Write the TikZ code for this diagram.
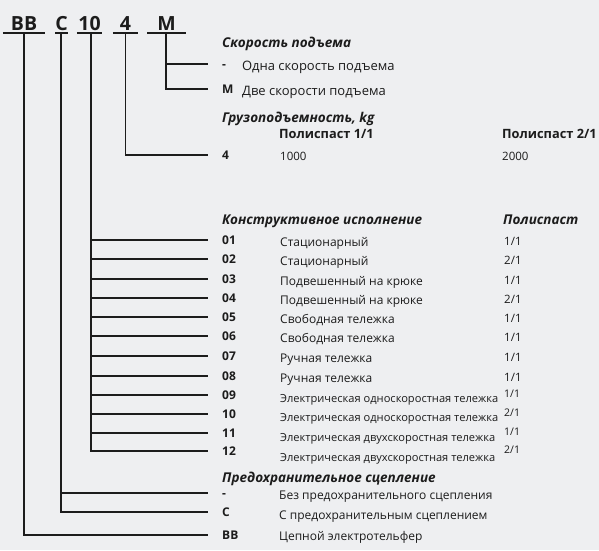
\documentclass[tikz,border=0pt]{standalone}
\usepackage{fontspec}
\setmainfont{Open Sans}
\definecolor{bg}{RGB}{238,239,241}
\definecolor{ink}{RGB}{28,28,28}
\begin{document}
\begin{tikzpicture}[x=1pt,y=-1pt,
  topcode/.style={font=\bfseries\fontsize{19.5}{20}\selectfont, inner sep=0pt, anchor=base, text depth=3pt, text=ink},
  head/.style={font=\bfseries\itshape\fontsize{13.5}{15}\selectfont, anchor=base west, inner sep=0pt, text=ink},
  sub/.style={font=\bfseries\fontsize{12.8}{15}\selectfont, anchor=base west, inner sep=0pt, text=ink},
  code/.style={font=\bfseries\fontsize{12}{14}\selectfont, anchor=west, inner sep=0pt, text height=8.6pt, text depth=0pt, text=ink},
  descb/.style={font=\fontsize{13}{15}\selectfont, anchor=base west, inner sep=0pt, text=ink},
  desc/.style={font=\fontsize{12}{14}\selectfont, anchor=base west, inner sep=0pt, text=ink},
  descs/.style={font=\fontsize{11.1}{13}\selectfont, anchor=base west, inner sep=0pt, text=ink},
  val/.style={font=\fontsize{11.5}{13}\selectfont, anchor=base west, inner sep=0pt, text=ink},
  vals/.style={font=\fontsize{10.5}{12}\selectfont, anchor=base west, inner sep=0pt, text=ink},
  link/.style={line width=1.5pt, draw=ink},
  uline/.style={line width=1.5pt, draw=ink}]
\fill[bg] (0,0) rectangle (599,550);
\useasboundingbox (0,0) rectangle (599,550);
% top code
\node[topcode, minimum width=42pt] (cBB) at (24,30) {BB};
\node[topcode, minimum width=9pt] (cC) at (61.5,30) {C};
\node[topcode, minimum width=25pt] (c10) at (89.5,30) {10};
\node[topcode, minimum width=25pt] (c4) at (125.5,30) {4};
\node[topcode, minimum width=38pt] (cM) at (166.5,30) {M};
\foreach \n in {cBB,cC,c10,c4,cM}
  \draw[uline] (\n.south west) -- (\n.south east);
% speed
\node[head] (hM) at (222,47) {Скорость подъема};
\node[code] (rM1) at (222,64) {-};
\node[descb] (dM1) at (242,70) {Одна скорость подъема};
\node[code] (rM2) at (222,89) {M};
\node[descb] (dM2) at (242,95) {Две скорости подъема};
% capacity
\node[head] (h4) at (222,122) {Грузоподъемность, kg};
\node[sub] (p11) at (279,138) {Полиспаст 1/1};
\node[sub] (p21) at (502,138) {Полиспаст 2/1};
\node[code] (r4) at (222,155) {4};
\node[val] (v1000) at (280,160) {1000};
\node[val] (v2000) at (502,160) {2000};
% design
\node[head] (h10) at (222,224) {Конструктивное исполнение};
\node[head] (hP) at (503,224) {Полиспаст};
\foreach \c/\y/\d/\v in {01/240/Стационарный/1\slash 1, 02/259/Стационарный/2\slash 1,
  03/279/Подвешенный на крюке/1\slash 1, 04/298/Подвешенный на крюке/2\slash 1,
  05/317/Свободная тележка/1\slash 1, 06/336/Свободная тележка/1\slash 1,
  07/356/Ручная тележка/1\slash 1, 08/376/Ручная тележка/1\slash 1}{
  \node[code] (r\c) at (222,\y) {\c};
  \node[desc] (d\c) at (280,\y+6) {\d};
  \node[val] (v\c) at (504,\y+5) {\v};
}
\foreach \c/\y/\o/\d/\v in {09/395/2/Электрическая односкоростная тележка/1\slash 1,
  10/414/2/Электрическая односкоростная тележка/2\slash 1,
  11/433/3/Электрическая двухскоростная тележка/1\slash 1,
  12/451/5/Электрическая двухскоростная тележка/2\slash 1}{
  \node[code] (r\c) at (222,\y) {\c};
  \node[descs] (d\c) at (280,\y+5+\o) {\d};
  \node[vals] (v\c) at (504,\y+2) {\v};
}
% clutch
\node[head] (hC) at (222,482) {Предохранительное сцепление};
\node[code] (rC1) at (222,493) {-};
\node[desc] (dC1) at (279,499) {Без предохранительного сцепления};
\node[code] (rC2) at (222,512) {C};
\node[desc] (dC2) at (279,519) {С предохранительным сцеплением};
\node[code] (rBB) at (222,535) {BB};
\node[desc] (dBB) at (279,540) {Цепной электротельфер};
% connectors
\foreach \r in {rM1,rM2} \draw[link] ([xshift=-0.5pt]cM.south) |- ([xshift=-14pt]\r.west);
\draw[link] (c4.south) |- ([xshift=-14pt]r4.west);
\foreach \r in {r01,r02,r03,r04,r05,r06,r07,r08,r09,r10,r11,r12}
  \draw[link] ([xshift=1.5pt]c10.south) |- ([xshift=-14pt]\r.west);
\foreach \r in {rC1,rC2} \draw[link] ([xshift=-0.5pt]cC.south) |- ([xshift=-14pt]\r.west);
\draw[link] (cBB.south) |- ([xshift=-14pt]rBB.west);
\end{tikzpicture}
\end{document}
